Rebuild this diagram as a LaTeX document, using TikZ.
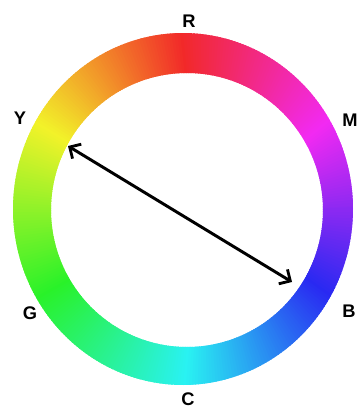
\documentclass[tikz,border=0pt]{standalone}
\usepackage{fontspec}
\setmainfont{Liberation Sans}
\usetikzlibrary{arrows.meta}

\begin{document}
\begin{tikzpicture}[x=0.025cm,y=-0.025cm,
  lbl/.style={font=\fontsize{13}{15}\selectfont\bfseries,inner sep=0pt},
  hueline/.style={line width=2.1pt,{Straight Barb[length=6pt,width=12pt,line width=2pt]}-{Straight Barb[length=6pt,width=12pt,line width=2pt]}}]
\useasboundingbox (0,0) rectangle (358,409);
\foreach \a in {0,1,...,359}{
  \pgfmathtruncatemacro\h{mod(\a+270,360)}
  \definecolor{huefill}{Hsb}{\h,0.83,0.95}
  \fill[huefill] ({183+170*cos(\a)},{209-176*sin(\a)})
    -- ({183+170*cos(\a+1.6)},{209-176*sin(\a+1.6)})
    -- ({187+136*cos(\a+1.6)},{210-137*sin(\a+1.6)})
    -- ({187+136*cos(\a)},{210-137*sin(\a)}) -- cycle;
}
\node[lbl] (r) at (189,21) {R};
\node[lbl] (m) at (350,120) {M};
\node[lbl] (y) at (20,118) {Y};
\node[lbl] (g) at (30,313) {G};
\node[lbl] (b) at (349,311) {B};
\node[lbl] (c) at (188,399) {C};
\coordinate (ytip) at (68,146);
\coordinate (btip) at (292,282);
\draw[hueline] (ytip) -- (btip);
\end{tikzpicture}
\end{document}
